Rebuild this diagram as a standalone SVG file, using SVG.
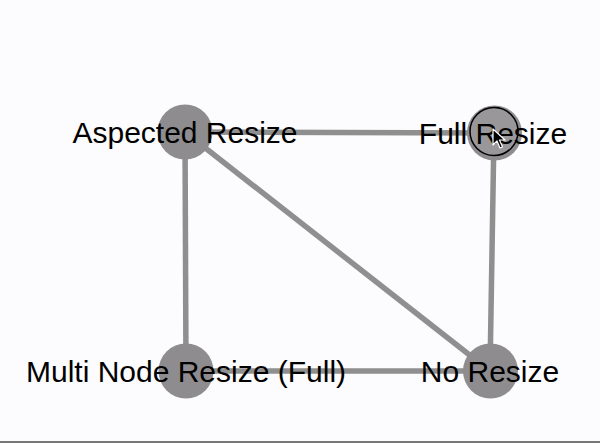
<svg xmlns="http://www.w3.org/2000/svg" width="600" height="443" viewBox="0 0 600 443">
<style>
.edge{stroke:#8f8f8f;stroke-width:5.5;fill:none}
.node{fill:#8e8c8e}
.label{font-family:"Liberation Sans",Arial,sans-serif;font-size:30px;fill:#000;text-anchor:middle}
</style>
<rect width="600" height="443" fill="#fcfbfd"/>
<line x1="0" y1="442" x2="600" y2="442" stroke="#777" stroke-width="2"/>
<g id="connectors">
<line class="edge" x1="185" y1="132" x2="494" y2="133"/>
<line class="edge" x1="185" y1="132" x2="186" y2="371"/>
<line class="edge" x1="185" y1="132" x2="490" y2="371"/>
<line class="edge" x1="494" y1="133" x2="490" y2="371"/>
<line class="edge" x1="186" y1="371" x2="490" y2="371"/>
</g>
<g id="node-aspected">
<circle class="node" cx="185" cy="132" r="27.5"/>
<text class="label" x="185" y="142.5">Aspected Resize</text>
</g>
<g id="node-full">
<circle class="node" cx="494.5" cy="133" r="27.5"/>
<circle cx="494" cy="131.5" r="24" fill="#999799" stroke="#000" stroke-width="1.5"/>
<text class="label" x="493" y="144">Full Resize</text>
<path d="M493,129 L493,145 L497,141 L500,148 L502.5,147 L499.5,140 L505,140 Z" fill="#000" stroke="#fff" stroke-width="1.2" stroke-linejoin="round"/>
</g>
<g id="node-multi">
<circle class="node" cx="186" cy="371" r="27.5"/>
<text class="label" x="186" y="381.5">Multi Node Resize (Full)</text>
</g>
<g id="node-no">
<circle class="node" cx="490.5" cy="371" r="27.5"/>
<text class="label" x="490" y="381.5">No Resize</text>
</g>
</svg>
